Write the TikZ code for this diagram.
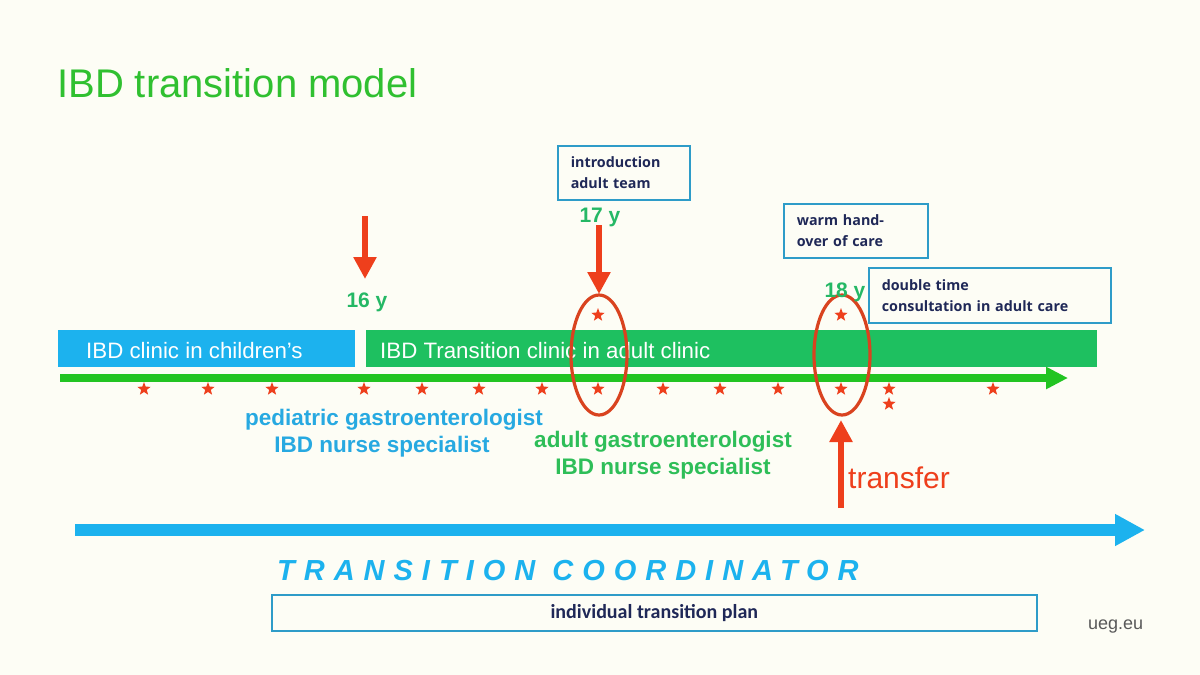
\documentclass[tikz,border=0pt]{standalone}
\usepackage{fontspec}
\setmainfont{Liberation Sans}
\newfontfamily\boxfont{Open Sans}
\newfontfamily\planfont{Carlito}
\usetikzlibrary{arrows.meta,shapes.geometric}
\definecolor{bg}{HTML}{FDFDF5}
\definecolor{titlegreen}{HTML}{30C030}
\definecolor{cblue}{HTML}{1CB2EE}
\definecolor{boxgreen}{HTML}{1EC060}
\definecolor{linegreen}{HTML}{22C422}
\definecolor{redc}{HTML}{EE3F1C}
\definecolor{ellred}{HTML}{D9431F}
\definecolor{agegreen}{HTML}{25B865}
\definecolor{pedblue}{HTML}{27A9E1}
\definecolor{adultgreen}{HTML}{2EBE58}
\definecolor{navy}{HTML}{1F2857}
\definecolor{boxline}{HTML}{2E9CC8}
\tikzset{
  redstar/.style={star, star points=5, star point ratio=2.4, fill=redc, minimum size=14pt, inner sep=0pt},
  redarrow/.style={draw=redc, line width=6.5pt, -{Triangle[width=22pt,length=22pt]}},
  ageoval/.style={draw=ellred, line width=3.2pt},
  agelabel/.style={font=\fontsize{21}{24}\selectfont\bfseries, text=agegreen, anchor=base, inner sep=0pt},
  infobox/.style={draw=boxline, line width=1.6pt, fill=bg, anchor=north west, align=left,
    font=\boxfont\fontsize{14.3}{21}\selectfont\bfseries, text=navy, inner xsep=13pt, inner ysep=0pt},
  rolelabel/.style={font=\fontsize{22.5}{27}\selectfont\bfseries, align=center, inner sep=0pt},
  cliniclabel/.style={font=\fontsize{22.3}{24}\selectfont, text=white, anchor=base west, inner sep=0pt}
}
\begin{document}
\begin{tikzpicture}[x=1pt,y=-1pt]
\useasboundingbox (0,0) rectangle (1200,675);
\fill[bg] (0,0) rectangle (1200,675);

% title
\node[anchor=base west, inner sep=0pt, text=titlegreen, font=\fontsize{40}{44}\selectfont] (title) at (57,97) {IBD transition model};

% clinic bars
\fill[cblue] (58,330) rectangle (355,367);
\fill[boxgreen] (366,330) rectangle (1097,367);
\node[cliniclabel] (kids) at (86,358) {IBD clinic in children's};
\node[cliniclabel] (adultclinic) at (380,358) {IBD Transition clinic in adult clinic};

% green timeline
\coordinate (gstart) at (60,378);
\coordinate (gend) at (1068,378);
\draw[linegreen, line width=7.5pt, -{Triangle[width=21pt,length=22pt]}] (gstart) -- (gend);

% stars
\foreach \x [count=\i] in {144,208,272,364,422,479,542,598,663,720,778,841,889,993}
  \node[redstar] (s\i) at (\x,389) {};
\node[redstar] (s15) at (889,404) {};
\node[redstar] (u1) at (598,315) {};
\node[redstar] (u2) at (841,315) {};

% ovals
\draw[ageoval] (599,355) ellipse [x radius=28, y radius=60];
\draw[ageoval] (842,355) ellipse [x radius=28, y radius=60];

% ages and arrows
\node[agelabel] (a16) at (367,307) {16 y};
\node[agelabel] (a17) at (600,222) {17 y};
\node[agelabel] (a18) at (845,297) {18 y};
\coordinate (r16s) at (365,216);
\coordinate (r16e) at (365,279);
\draw[redarrow] (r16s) -- (r16e);
\coordinate (r17s) at (599,225);
\coordinate (r17e) at (599,294);
\draw[redarrow] (r17s) -- (r17e);
\coordinate (r18s) at (841,508);
\coordinate (r18e) at (841,420);
\draw[redarrow] (r18s) -- (r18e);
\node[anchor=base west, inner sep=0pt, text=redc, font=\fontsize{30}{34}\selectfont] (transfer) at (848,488) {transfer};

% info boxes
\node[infobox, minimum width=132pt, minimum height=54pt, text width=106pt] (intro) at (557,145) {introduction\\adult team};
\node[infobox, minimum width=144pt, minimum height=54pt, text width=118pt] (warm) at (783,203) {warm hand-\\over of care};
\node[infobox, minimum width=242pt, minimum height=55pt, text width=216pt] (double) at (868,267) {double time\\consultation in adult care};

% role labels
\node[rolelabel, text=pedblue] (ped) at (394,433) {pediatric gastroenterologist\\IBD nurse specialist\hspace*{24pt}};
\node[rolelabel, text=adultgreen] (adult) at (663,455) {adult gastroenterologist\\IBD nurse specialist};

% coordinator arrow
\coordinate (bstart) at (75,530);
\coordinate (bend) at (1145,530);
\draw[cblue, line width=12pt, -{Triangle[width=30pt,length=30pt]}] (bstart) -- (bend);
\node[anchor=base west, inner sep=0pt, text=cblue, font=\fontsize{29}{30}\selectfont\bfseries\itshape\addfontfeature{LetterSpace=31}] (coord) at (277,580) {TRANSITION COORDINATOR};

% plan box
\node[draw=boxline, line width=1.6pt, fill=bg, minimum width=765pt, minimum height=36pt, anchor=north west,
  font=\planfont\fontsize{20}{22}\selectfont\bfseries, text=navy] (plan) at (271,594) {individual transition plan};

\node[anchor=base west, inner sep=0pt, text=black!65, font=\fontsize{18}{20}\selectfont] (ueg) at (1088,629) {ueg.eu};
\end{tikzpicture}
\end{document}
